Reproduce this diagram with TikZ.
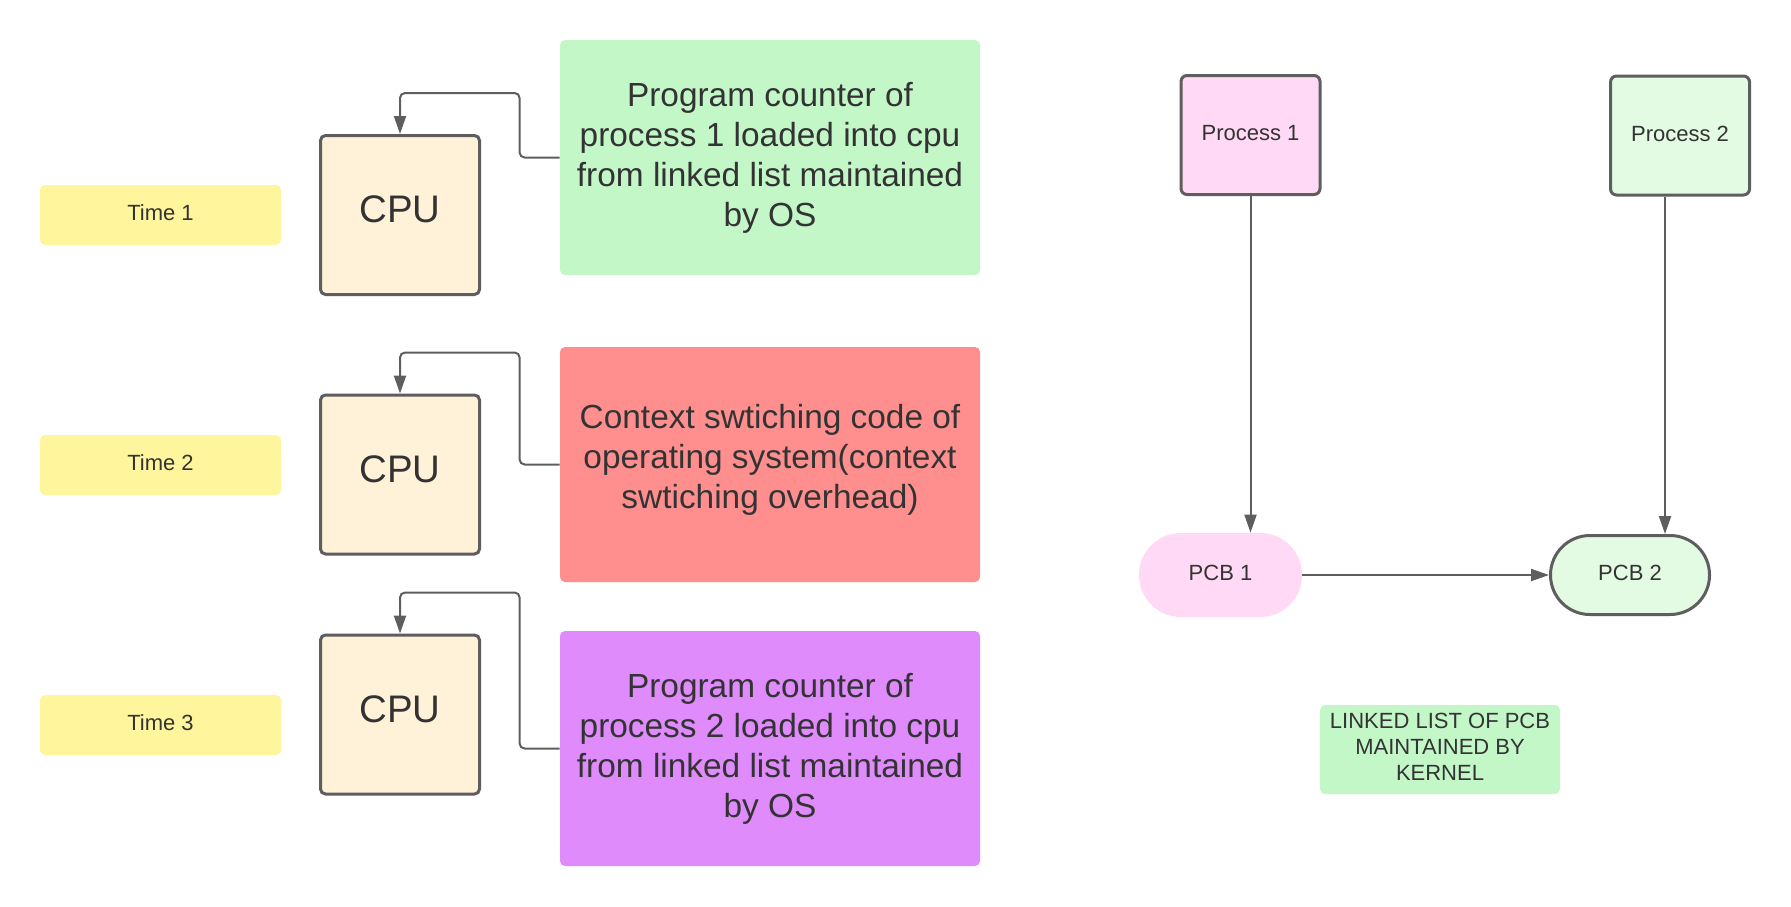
\documentclass[tikz,border=0pt]{standalone}
\usepackage{fontspec}
\setmainfont{Liberation Sans}
\usetikzlibrary{arrows.meta}
\definecolor{txt}{HTML}{333333}
\definecolor{edge}{HTML}{5E5E5E}
\definecolor{yel}{HTML}{FFF59D}
\definecolor{cream}{HTML}{FFF2D9}
\definecolor{lgreen}{HTML}{C3F7C8}
\definecolor{lred}{HTML}{FF8F8F}
\definecolor{lpurple}{HTML}{DF8BFC}
\definecolor{lpink}{HTML}{FFD9F5}
\definecolor{pgreen}{HTML}{E3FAE3}
\begin{document}
\begin{tikzpicture}[x=0.5pt,y=-0.5pt,
  every node/.style={text=txt, inner sep=0pt},
  timebox/.style={fill=yel, rounded corners=2.5pt, minimum width=120.5pt, minimum height=30pt, text depth=2pt, font=\fontsize{11}{13}\selectfont},
  cpubox/.style={fill=cream, draw=edge, line width=1.5pt, rounded corners=2.5pt, minimum width=79.5pt, minimum height=79.5pt, text depth=5.5pt, font=\fontsize{19.2}{23}\selectfont},
  infobox/.style={rounded corners=2.5pt, minimum width=210pt, minimum height=117.5pt, align=center, font=\fontsize{16.7}{20}\selectfont},
  procbox/.style={draw=edge, line width=1.5pt, rounded corners=3pt, minimum width=69.5pt, minimum height=59.5pt, text depth=2pt, font=\fontsize{11}{13}\selectfont},
  pcbbox/.style={minimum width=79.5pt, minimum height=39.5pt, rounded corners=19.7pt, text depth=2pt, font=\fontsize{11}{13}\selectfont},
  notebox/.style={fill=lgreen, rounded corners=2.5pt, minimum width=120pt, minimum height=44.5pt, align=center, text depth=2.5pt, font=\fontsize{11}{13}\selectfont},
  conn/.style={draw=edge, line width=1pt, rounded corners=2.5pt, -{Triangle[length=9pt,width=6pt]}},
]
\fill[white] (0,0) rectangle (1791,906);
\useasboundingbox (0,0) rectangle (1791,906);

\node[timebox] (t1) at (160.5,215) {Time 1};
\node[timebox] (t2) at (160.5,465) {Time 2};
\node[timebox] (t3) at (160.5,725) {Time 3};

\node[cpubox] (c1) at (400,215) {CPU};
\node[cpubox] (c2) at (400,474.5) {CPU};
\node[cpubox] (c3) at (400,714.5) {CPU};

\node[infobox, fill=lgreen] (g) at (770,157.5) {Program counter of\\process 1 loaded into cpu\\from linked list maintained\\by OS};
\node[infobox, fill=lred, text depth=8pt] (r) at (770,464.5) {Context swtiching code of\\operating system(context\\swtiching overhead)};
\node[infobox, fill=lpurple] (p) at (770,748.5) {Program counter of\\process 2 loaded into cpu\\from linked list maintained\\by OS};

\draw[conn] (g.west) -- ++(-40,0) |- ([yshift=20.5pt]c1.north) -- (c1.north);
\draw[conn] (r.west) -- ++(-40,0) |- ([yshift=20.5pt]c2.north) -- (c2.north);
\draw[conn] (p.west) -- ++(-40,0) |- ([yshift=20.5pt]c3.north) -- (c3.north);

\node[procbox, fill=lpink] (pr1) at (1250.5,135) {Process 1};
\node[procbox, fill=pgreen] (pr2) at (1680,135.5) {Process 2};
\node[pcbbox, fill=lpink, minimum width=81.5pt, minimum height=42pt, rounded corners=20.9pt] (b1) at (1220.5,575) {PCB 1};
\node[pcbbox, fill=pgreen, draw=edge, line width=1.5pt] (b2) at (1630,575) {PCB 2};
\node[notebox] (lab) at (1440,749.5) {LINKED LIST OF PCB\\MAINTAINED BY\\KERNEL};

\draw[conn] (pr1.south) -- (pr1.south |- b1.north);
\coordinate (a2) at ([xshift=-7.5pt]pr2.south);
\draw[conn] (a2) -- (a2 |- b2.north);
\draw[conn] (b1.east) -- (b2.west);
\end{tikzpicture}
\end{document}
